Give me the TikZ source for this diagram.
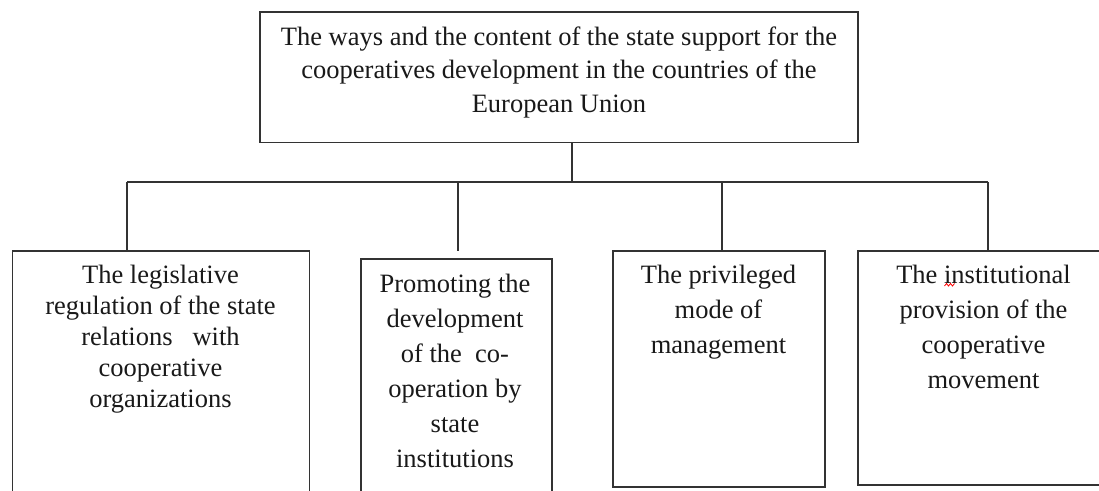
\documentclass[tikz,border=0pt]{standalone}
\usepackage{fontspec}
\setmainfont{Liberation Serif}
\begin{document}
\begin{tikzpicture}[x=1pt,y=-1pt,
  box/.style={draw=black!80,line width=1.7pt,rectangle,inner sep=0pt,outer sep=0pt,anchor=north west},
  txt/.style={anchor=base,inner sep=0pt,text=black!90},
  conn/.style={draw=black!80,line width=1.4pt}]
\useasboundingbox (0,0) rectangle (1099,490);
\clip (0,0) rectangle (1099,490);
\fill[white] (0,0) rectangle (1099,490);
% boxes
\node[box,minimum width=598pt,minimum height=130.5pt] (top) at (260,12) {};
\node[box,minimum width=297pt,minimum height=270pt] (b1) at (12.5,250.7) {};
\node[box,minimum width=191pt,minimum height=260pt] (b2) at (360.7,259.3) {};
\node[box,minimum width=212pt,minimum height=236.6pt] (b3) at (612.7,250.7) {};
\node[box,minimum width=280pt,minimum height=234pt] (b4) at (857.7,250.7) {};
% texts
\node[txt,font=\fontsize{26.5}{33.5}\selectfont] (ttop) at (559,45)
 {\begin{tabular}[t]{@{}c@{}}The ways and the content of the state support for the\\ cooperatives development in the countries of the\\ European Union\end{tabular}};
\node[txt,font=\fontsize{26.5}{31}\selectfont] (t1) at (160.5,283)
 {\begin{tabular}[t]{@{}c@{}}The legislative\\ regulation of the state\\ relations\ \ \ with\\ cooperative\\ organizations\end{tabular}};
\node[txt,font=\fontsize{26.5}{35}\selectfont] (t2) at (455,292)
 {\begin{tabular}[t]{@{}c@{}}Promoting the\\ development\\ of the\ \ co-\\ operation by\\ state\\ institutions\end{tabular}};
\node[txt,font=\fontsize{26.5}{35}\selectfont] (t3) at (718.5,283)
 {\begin{tabular}[t]{@{}c@{}}The privileged\\ mode of\\ management\end{tabular}};
\node[txt,font=\fontsize{26.5}{35}\selectfont] (t4) at (983.5,283)
 {\begin{tabular}[t]{@{}c@{}}The institutional\\ provision of the\\ cooperative\\ movement\end{tabular}};
% connectors
\coordinate (j) at (572,182);
\coordinate (hl) at (127,182);
\coordinate (hr) at (988,182);
\coordinate (d2) at (458,182);
\coordinate (d3) at (722,182);
\coordinate (e2) at (458,250.7);
\draw[conn] (top.south -| j) -- (j);
\draw[conn] (hl) -- (hr);
\draw[conn] (hl) -- (hl |- b1.north);
\draw[conn] (d2) -- (e2);
\draw[conn] (d3) -- (d3 |- b3.north);
\draw[conn] (hr) -- (hr |- b4.north);
% spell-check mark
\draw[red,line width=0.8pt] (944.5,286) -- (946.5,283.5) -- (948.5,286) -- (950.5,283.5) -- (952.5,286) -- (954.5,283.5);
\end{tikzpicture}
\end{document}
